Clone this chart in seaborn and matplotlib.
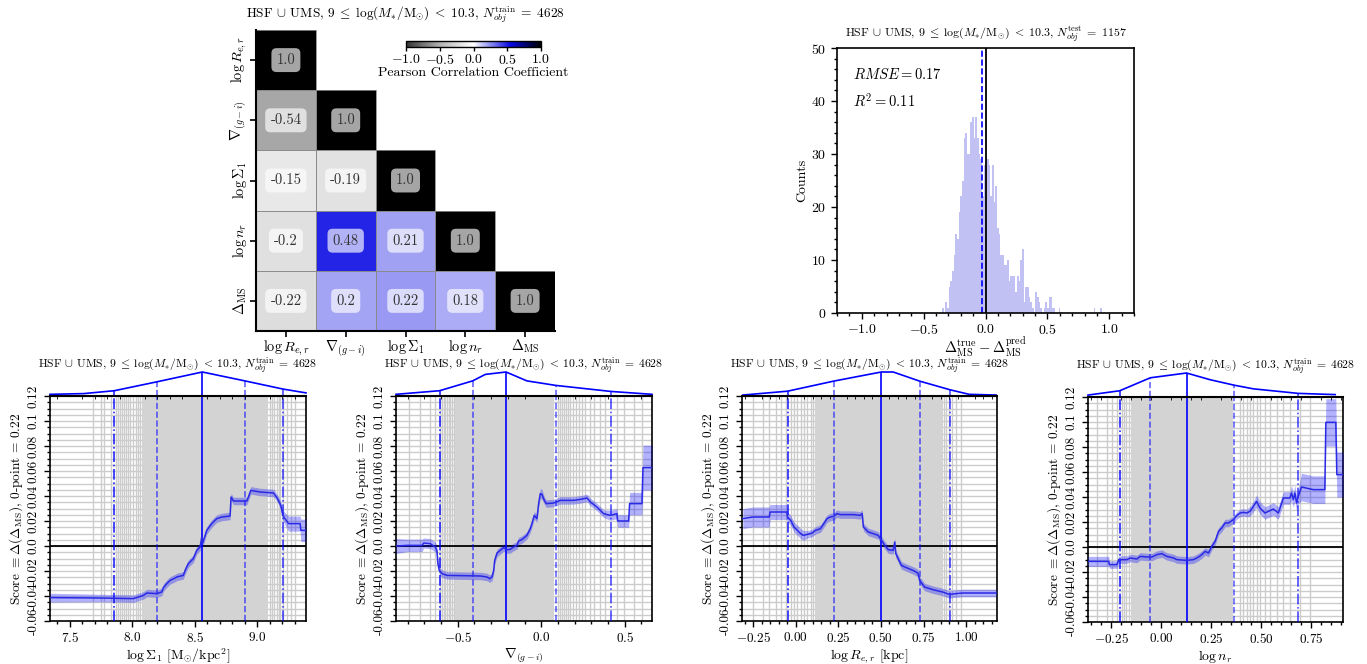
import numpy as np
import pandas as pd
import matplotlib
matplotlib.use("Agg")
import matplotlib.pyplot as plt
import seaborn as sns
from matplotlib.colors import LinearSegmentedColormap
from matplotlib.patches import Rectangle
from matplotlib.ticker import AutoMinorLocator, MultipleLocator

# ---------------------------------------------------------------- data
features = [r"$\log R_{e,r}$", r"$\nabla_{(g-i)}$", r"$\log \Sigma_1$",
            r"$\log n_r$", r"$\Delta_{\rm MS}$"]
corr = np.array([
    [1.00, 0.00, 0.00, 0.00, 0.00],
    [-0.54, 1.00, 0.00, 0.00, 0.00],
    [-0.15, -0.19, 1.00, 0.00, 0.00],
    [-0.20, 0.48, 0.21, 1.00, 0.00],
    [-0.22, 0.20, 0.22, 0.18, 1.00],
])

# residual histogram (test set)
hist_start = -0.352
hist_width = 0.01346
hist_counts = [1, 0, 2, 1, 5, 6, 8, 11, 15, 14,
               19, 22, 25, 33, 34, 30, 30, 36, 37, 33,
               37, 33, 30, 29, 22, 28, 28, 29, 28, 22,
               28, 21, 24, 16, 15, 11, 11, 9, 9, 10,
               6, 7, 7, 7, 4, 7, 6, 10, 12, 2,
               5, 5, 3, 2, 1, 0, 4, 3, 2, 1,
               0, 1, 2, 1, 3, 3, 1, 1, 0, 0,
               1, 0, 0, 0, 0, 0, 0, 0, 0, 0,
               0, 0, 0, 0, 0, 0, 0, 0, 0, 0,
               0, 1, 0, 0, 0, 1]
hist_offset = -0.025
rmse = 0.17
r2 = 0.11

# partial-dependence scores, one set per feature
sig_x = [7.340, 7.741, 8.008, 8.088, 8.115, 8.195, 8.235, 8.248, 8.275, 8.302,
         8.342, 8.355, 8.408, 8.422, 8.448, 8.488, 8.515, 8.542, 8.555, 8.563,
         8.595, 8.635, 8.675, 8.716, 8.782, 8.790, 8.809, 8.916, 8.929, 8.948,
         9.023, 9.130, 9.162, 9.188, 9.204, 9.250, 9.343, 9.349, 9.389]
sig_y = [-0.0413, -0.0416, -0.0421, -0.0395, -0.0376, -0.0381, -0.0368, -0.0333, -0.0301, -0.0275,
         -0.0256, -0.0248, -0.0235, -0.0195, -0.0141, -0.0101, -0.0035, -0.0008, 0.0072, 0.0024,
         0.0125, 0.0179, 0.0219, 0.0232, 0.0240, 0.0392, 0.0360, 0.0360, 0.0392, 0.0445,
         0.0432, 0.0424, 0.0379, 0.0325, 0.0245, 0.0179, 0.0179, 0.0125, 0.0125]
sig_err = [0.0035, 0.003, 0.003, 0.003, 0.003, 0.003, 0.003, 0.003, 0.003, 0.003,
           0.003, 0.003, 0.003, 0.003, 0.003, 0.003, 0.003, 0.003, 0.003, 0.003,
           0.003, 0.003, 0.003, 0.003, 0.003, 0.003, 0.003, 0.003, 0.003, 0.003,
           0.003, 0.003, 0.003, 0.003, 0.004, 0.006, 0.006, 0.009, 0.009]

grad_x = [-0.870, -0.804, -0.714, -0.704, -0.665, -0.635, -0.625, -0.619, -0.611, -0.595,
          -0.565, -0.365, -0.325, -0.309, -0.295, -0.285, -0.279, -0.265, -0.246, -0.226,
          -0.206, -0.186, -0.166, -0.146, -0.136, -0.116, -0.086, -0.066, -0.056, -0.042,
          -0.026, -0.016, -0.006, 0.004, 0.018, 0.030, 0.074, 0.114, 0.194, 0.234,
          0.274, 0.294, 0.333, 0.373, 0.413, 0.453, 0.457, 0.523, 0.529, 0.603,
          0.609, 0.663]
grad_y = [0.0000, 0.0005, 0.0005, 0.0024, 0.0019, -0.0008, -0.0035, -0.0141, -0.0195, -0.0221,
          -0.0235, -0.0240, -0.0248, -0.0261, -0.0248, -0.0195, -0.0115, -0.0056, -0.0035, -0.0013,
          -0.0029, -0.0027, -0.0008, 0.0005, 0.0040, 0.0051, 0.0085, 0.0139, 0.0179, 0.0245,
          0.0219, 0.0339, 0.0419, 0.0413, 0.0365, 0.0339, 0.0344, 0.0365, 0.0365, 0.0373,
          0.0384, 0.0352, 0.0312, 0.0259, 0.0245, 0.0259, 0.0200, 0.0200, 0.0339, 0.0339,
          0.0627, 0.0627]
grad_err = [0.006, 0.005, 0.005, 0.004, 0.004, 0.004, 0.004, 0.003, 0.003, 0.003,
            0.003, 0.003, 0.003, 0.003, 0.003, 0.003, 0.003, 0.003, 0.003, 0.003,
            0.003, 0.003, 0.003, 0.003, 0.003, 0.003, 0.003, 0.003, 0.003, 0.003,
            0.003, 0.003, 0.004, 0.004, 0.003, 0.003, 0.003, 0.003, 0.003, 0.003,
            0.003, 0.003, 0.003, 0.003, 0.004, 0.004, 0.005, 0.005, 0.009, 0.009,
            0.018, 0.018]

size_x = [-0.310, -0.252, -0.155, -0.150, -0.052, -0.048, -0.029, -0.010, 0.010, 0.029,
          0.045, 0.068, 0.097, 0.116, 0.145, 0.165, 0.184, 0.203, 0.223, 0.242,
          0.262, 0.339, 0.378, 0.390, 0.397, 0.426, 0.455, 0.484, 0.504, 0.523,
          0.543, 0.572, 0.581, 0.587, 0.601, 0.620, 0.649, 0.688, 0.717, 0.727,
          0.756, 0.804, 0.862, 0.901, 0.940, 0.979, 1.176]
size_y = [0.0219, 0.0232, 0.0232, 0.0272, 0.0272, 0.0232, 0.0205, 0.0152, 0.0125, 0.0099,
          0.0085, 0.0093, 0.0104, 0.0125, 0.0139, 0.0179, 0.0219, 0.0232, 0.0237, 0.0259,
          0.0251, 0.0251, 0.0245, 0.0259, 0.0152, 0.0112, 0.0099, 0.0085, 0.0045, 0.0005,
          -0.0029, -0.0035, 0.0032, -0.0061, -0.0101, -0.0155, -0.0173, -0.0195, -0.0216, -0.0275,
          -0.0328, -0.0349, -0.0368, -0.0387, -0.0381, -0.0376, -0.0376]
size_err = [0.008, 0.008, 0.008, 0.006, 0.006, 0.004, 0.004, 0.004, 0.004, 0.004,
            0.004, 0.003, 0.003, 0.003, 0.003, 0.003, 0.003, 0.003, 0.003, 0.003,
            0.003, 0.003, 0.003, 0.003, 0.003, 0.003, 0.003, 0.003, 0.003, 0.003,
            0.003, 0.003, 0.003, 0.003, 0.003, 0.003, 0.003, 0.003, 0.003, 0.003,
            0.003, 0.003, 0.003, 0.003, 0.003, 0.003, 0.003]

sers_x = [-0.367, -0.263, -0.260, -0.222, -0.213, -0.172, -0.155, -0.122, -0.105, -0.072,
          -0.047, -0.022, 0.003, 0.028, 0.062, 0.078, 0.128, 0.162, 0.187, 0.203,
          0.220, 0.237, 0.253, 0.270, 0.287, 0.303, 0.320, 0.337, 0.362, 0.378,
          0.395, 0.412, 0.428, 0.445, 0.462, 0.478, 0.495, 0.520, 0.562, 0.587,
          0.612, 0.645, 0.653, 0.662, 0.670, 0.678, 0.687, 0.703, 0.762, 0.820,
          0.825, 0.875, 0.880, 0.912]
sers_y = [-0.0115, -0.0115, -0.0141, -0.0141, -0.0101, -0.0101, -0.0088, -0.0096, -0.0075, -0.0080,
          -0.0080, -0.0061, -0.0053, -0.0075, -0.0088, -0.0101, -0.0107, -0.0101, -0.0080, -0.0061,
          -0.0035, -0.0048, 0.0005, 0.0045, 0.0125, 0.0152, 0.0192, 0.0192, 0.0219, 0.0251,
          0.0272, 0.0277, 0.0272, 0.0285, 0.0325, 0.0365, 0.0312, 0.0272, 0.0304, 0.0272,
          0.0392, 0.0392, 0.0432, 0.0379, 0.0432, 0.0352, 0.0405, 0.0480, 0.0459, 0.0459,
          0.0997, 0.0997, 0.0579, 0.0579]
sers_err = [0.004, 0.004, 0.003, 0.003, 0.003, 0.003, 0.003, 0.003, 0.003, 0.003,
            0.003, 0.003, 0.003, 0.003, 0.003, 0.003, 0.003, 0.003, 0.003, 0.003,
            0.003, 0.003, 0.003, 0.003, 0.003, 0.003, 0.003, 0.003, 0.003, 0.003,
            0.003, 0.003, 0.003, 0.004, 0.004, 0.005, 0.005, 0.005, 0.005, 0.005,
            0.005, 0.005, 0.006, 0.006, 0.006, 0.006, 0.006, 0.011, 0.011, 0.011,
            0.019, 0.019, 0.018, 0.018]

# percentile positions of each feature (tails) and the dense central range
sig_pct = [7.682, 7.746, 7.775, 7.829, 7.869, 7.885, 7.901, 7.914, 7.930, 7.946,
           7.963, 7.981, 8.008, 8.027, 8.043, 8.061,
           9.103, 9.121, 9.135, 9.156, 9.172, 9.183, 9.209, 9.236, 9.269, 9.303]
grad_pct = [-0.794, -0.724, -0.665, -0.635, -0.605, -0.595, -0.585, -0.575, -0.565, -0.555,
            -0.545, -0.535, -0.525,
            0.098, 0.110, 0.122, 0.134, 0.146, 0.160, 0.174, 0.190, 0.206, 0.224,
            0.244, 0.263, 0.289, 0.317, 0.349, 0.383, 0.453, 0.493, 0.553, 0.603]
size_pct = [-0.252, -0.194, -0.155, -0.116, -0.087, -0.058, -0.029, -0.010, 0.010, 0.029,
            0.048, 0.068, 0.087, 0.103,
            0.872, 0.882, 0.897, 0.917, 0.940, 0.969]
sers_pct = [-0.322, -0.272, -0.247, -0.222, -0.197, -0.185, -0.175, -0.163,
            0.395, 0.412, 0.428, 0.445, 0.462, 0.478, 0.495, 0.520, 0.545, 0.578,
            0.612, 0.645, 0.695, 0.745]
sig_core = [8.075, 9.089]
grad_core = [-0.515, 0.074]
size_core = [0.116, 0.862]
sers_core = [-0.150, 0.362]

# quantile markers (outer, inner, median, inner, outer)
sig_q = [7.855, 8.195, 8.560, 8.900, 9.205]
grad_q = [-0.609, -0.411, -0.211, 0.088, 0.417]
size_q = [-0.048, 0.223, 0.502, 0.727, 0.905]
sers_q = [-0.208, -0.055, 0.127, 0.367, 0.687]

# normalised feature distributions shown above each panel
sig_kde_x = [7.34, 7.61, 7.855, 8.195, 8.56, 8.90, 9.205, 9.39]
sig_kde_y = [0.07, 0.10, 0.22, 0.59, 1.00, 0.63, 0.29, 0.13]
grad_kde_x = [-0.870, -0.609, -0.411, -0.335, -0.211, -0.086, 0.088, 0.417, 0.663]
grad_kde_y = [0.07, 0.22, 0.63, 0.90, 1.00, 0.63, 0.44, 0.19, 0.07]
size_kde_x = [-0.310, -0.048, 0.223, 0.502, 0.572, 0.727, 0.905, 1.017, 1.176]
size_kde_y = [0.04, 0.20, 0.62, 1.00, 1.00, 0.62, 0.26, 0.07, 0.04]
sers_kde_x = [-0.367, -0.208, -0.055, 0.127, 0.245, 0.367, 0.462, 0.687, 0.872]
sers_kde_y = [0.08, 0.26, 0.80, 1.00, 0.72, 0.49, 0.34, 0.15, 0.10]

sig_lim = [7.34, 9.39]
grad_lim = [-0.87, 0.663]
size_lim = [-0.315, 1.181]
sers_lim = [-0.367, 0.911]

score_ticks = [-0.06, -0.04, -0.02, 0.0, 0.02, 0.04, 0.06, 0.08, 0.10, 0.12]
score_labels = ["-0.06", "-0.04", "-0.02", "0.0", "0.02", "0.04", "0.06", "0.08", "0.1", "0.12"]

title_train = (r"HSF $\cup$ UMS, $9 \;\leq\; \log(M_{*}/\mathrm{M}_{\odot}) \;<\; 10.3$, "
               r"$N_{obj}^{\rm train} \;=\; 4628$")
title_test = (r"HSF $\cup$ UMS, $9 \;\leq\; \log(M_{*}/\mathrm{M}_{\odot}) \;<\; 10.3$, "
              r"$N_{obj}^{\rm test} \;=\; 1157$")

# ---------------------------------------------------------------- style
plt.rcParams.update({
    "font.family": "serif",
    "font.serif": ["cmr10"],
    "mathtext.fontset": "cm",
    "axes.formatter.use_mathtext": True,
    "axes.unicode_minus": True,
    "axes.linewidth": 1.2,
    "xtick.direction": "out",
    "ytick.direction": "out",
})

W, H = 1367, 664
fig = plt.figure(figsize=(W / 100, H / 100), dpi=100)


def rect(x0, y0, x1, y1):
    return [x0 / W, 1 - y1 / H, (x1 - x0) / W, (y1 - y0) / H]


BLUE = "#2a2ae6"
LABEL_FS = 10
TICK_FS = 9.5
MARG_H = 24  # pixel height of the distribution strip above each panel

# ---------------------------------------------------------------- heatmap
cmap = LinearSegmentedColormap.from_list(
    "corr", [(0.0, (0.2, 0.2, 0.2)), (0.25, (0.70, 0.70, 0.70)), (0.5, (1, 1, 1)),
             (0.775, (0.02, 0.02, 0.89)), (1.0, (0, 0, 0))])
mask = np.triu(np.ones_like(corr, dtype=bool), k=1)
annot = np.array([[f"{round(v, 2)}" for v in row] for row in corr])

ax_hm = fig.add_axes(rect(256, 30, 555, 331))
sns.heatmap(corr, mask=mask, cmap=cmap, vmin=-1, vmax=1, annot=annot, fmt="",
            cbar=False, linewidths=0,
            xticklabels=features, yticklabels=features, ax=ax_hm,
            annot_kws=dict(fontsize=10.5, color="#333333",
                           bbox=dict(boxstyle="round,pad=0.35", fc="white",
                                     ec="none", alpha=0.65)))
# thin outline round every drawn cell
for i in range(corr.shape[0]):
    for j in range(i + 1):
        ax_hm.add_patch(Rectangle((j, i), 1, 1, fill=False, ec="#8a8a8a", lw=0.6))
for side in ["left", "bottom"]:
    ax_hm.spines[side].set_visible(True)
    ax_hm.spines[side].set_linewidth(1.5)
ax_hm.tick_params(length=4, width=1.2, pad=1, labelsize=LABEL_FS + 0.3)
plt.setp(ax_hm.get_xticklabels(), rotation=0)
plt.setp(ax_hm.get_yticklabels(), rotation=90, va="center")
ax_hm.set_title(title_train, fontsize=9.6, pad=9)

cax = fig.add_axes(rect(406, 41, 541, 47))
cb = fig.colorbar(ax_hm.collections[0], cax=cax, orientation="horizontal")
cb.set_ticks([-1, -0.5, 0, 0.5, 1])
cb.ax.tick_params(labelsize=TICK_FS + 0.5, length=3, width=1, pad=1)
cb.outline.set_linewidth(1)
cb.set_label("Pearson Correlation Coefficient", fontsize=LABEL_FS, labelpad=0)

# ---------------------------------------------------------------- histogram
ax_h = fig.add_axes(rect(837, 48, 1134, 313))
edges = [hist_start + hist_width * i for i in range(len(hist_counts) + 1)]
hist_df = pd.DataFrame({"resid": [0.5 * (a + b) for a, b in zip(edges[:-1], edges[1:])],
                        "n": hist_counts})
sns.histplot(data=hist_df, x="resid", weights="n", bins=edges, color="#3333dd",
             alpha=0.3, edgecolor="none", linewidth=0, ax=ax_h)
ax_h.axvline(0, color="black", lw=1.3)
ax_h.axvline(hist_offset, color="blue", ls="--", lw=1.2)
ax_h.set_xlim(-1.2, 1.2)
ax_h.set_ylim(0, 50)
ax_h.xaxis.set_major_locator(MultipleLocator(0.5))
ax_h.xaxis.set_minor_locator(MultipleLocator(0.1))
ax_h.yaxis.set_major_locator(MultipleLocator(10))
ax_h.yaxis.set_minor_locator(MultipleLocator(2))
ax_h.tick_params(which="major", length=4, width=1, labelsize=TICK_FS + 0.5)
ax_h.tick_params(which="minor", length=2.5, width=1)
ax_h.set_ylabel("Counts", fontsize=LABEL_FS, labelpad=2)
ax_h.set_xlabel(r"$\Delta_{\rm MS}^{\rm true} - \Delta_{\rm MS}^{\rm pred}$",
                fontsize=LABEL_FS + 0.5, labelpad=-2)
ax_h.text(0.055, 0.9, rf"$RMSE = {rmse}$", transform=ax_h.transAxes,
          fontsize=LABEL_FS + 0.5, va="center")
ax_h.text(0.055, 0.8, rf"$R^2 = {r2}$", transform=ax_h.transAxes,
          fontsize=LABEL_FS + 0.5, va="center")
ax_h.set_title(title_test, fontsize=8.6, pad=8)

# ---------------------------------------------------------------- score panels
panels = [
    (50, 306, 396, 621, sig_x, sig_y, sig_err, sig_pct, sig_core, sig_q,
     sig_kde_x, sig_kde_y, sig_lim, r"$\log \Sigma_1\ [\mathrm{M}_{\odot}/\mathrm{kpc}^2]$"),
    (396, 652, 396, 621, grad_x, grad_y, grad_err, grad_pct, grad_core, grad_q,
     grad_kde_x, grad_kde_y, grad_lim, r"$\nabla_{(g-i)}$"),
    (742, 997, 396, 621, size_x, size_y, size_err, size_pct, size_core, size_q,
     size_kde_x, size_kde_y, size_lim, r"$\log R_{e,r}$ [kpc]"),
    (1088, 1343, 397, 622, sers_x, sers_y, sers_err, sers_pct, sers_core, sers_q,
     sers_kde_x, sers_kde_y, sers_lim, r"$\log n_r$"),
]
q_styles = ["-.", "--", "-", "--", "-."]
q_alpha = [0.85, 0.6, 1.0, 0.6, 0.7]

for (x0, x1, y0, y1, px, py, perr, pct, core, qs, kx, ky, lim, xlabel) in panels:
    ax = fig.add_axes(rect(x0, y0, x1, y1))
    axm = fig.add_axes(rect(x0, y0 - MARG_H, x1, y0), sharex=ax)
    px, py, perr = np.asarray(px), np.asarray(py), np.asarray(perr)

    ax.set_axisbelow(True)
    ax.set_ylim(-0.06, 0.12)
    ax.set_yticks(score_ticks)
    ax.set_yticklabels(score_labels, rotation=90, va="center")
    ax.yaxis.set_minor_locator(AutoMinorLocator(4))
    ax.xaxis.set_minor_locator(AutoMinorLocator(5))
    ax.grid(axis="y", which="both", color="#cccccc", lw=1)
    for p in pct:
        ax.axvline(p, color="#cccccc", lw=1, zorder=0.55)
    ax.axvspan(core[0], core[1], color="#d3d3d3", lw=0, zorder=0.6)
    ax.axhline(0, color="black", lw=1.3, zorder=2)
    ax.fill_between(px, py - perr, py + perr, color="blue", alpha=0.3, lw=0, zorder=3)
    sns.lineplot(x=px, y=py, sort=False, estimator=None, color=BLUE, lw=1.1,
                 zorder=4, ax=ax)
    for q, ls, a in zip(qs, q_styles, q_alpha):
        ax.axvline(q, color="blue", ls=ls, lw=1.2, alpha=a, zorder=3.5)
    ax.set_xlim(*lim)
    ax.tick_params(which="major", length=4, width=1, labelsize=TICK_FS)
    ax.tick_params(which="minor", length=2.5, width=1)
    ax.set_xlabel(xlabel, fontsize=LABEL_FS, labelpad=1)
    ax.set_ylabel(r"Score $\equiv \Delta(\Delta_{\rm MS})$, 0-point = 0.22",
                  fontsize=9.6, labelpad=2)

    sns.lineplot(x=kx, y=ky, sort=False, estimator=None, color="blue", lw=1.2,
                 ax=axm, clip_on=False)
    for q, ls, a in zip(qs, q_styles, q_alpha):
        axm.vlines(q, 0, np.interp(q, kx, ky), colors="blue", linestyles=ls,
                   lw=1.2, alpha=a)
    axm.set_ylim(0, 1.0)
    axm.set_xlim(*lim)
    for side in ["top", "left", "right"]:
        axm.spines[side].set_visible(False)
    axm.spines["bottom"].set_linewidth(1.5)
    axm.tick_params(bottom=False, left=False, labelbottom=False, labelleft=False)
    axm.set_xlabel("")
    axm.set_ylabel("")
    axm.text(0.5, 1 + 3 / MARG_H, title_train, transform=axm.transAxes,
             ha="center", va="baseline", fontsize=8.4)

fig.savefig("out.png", dpi=100)
